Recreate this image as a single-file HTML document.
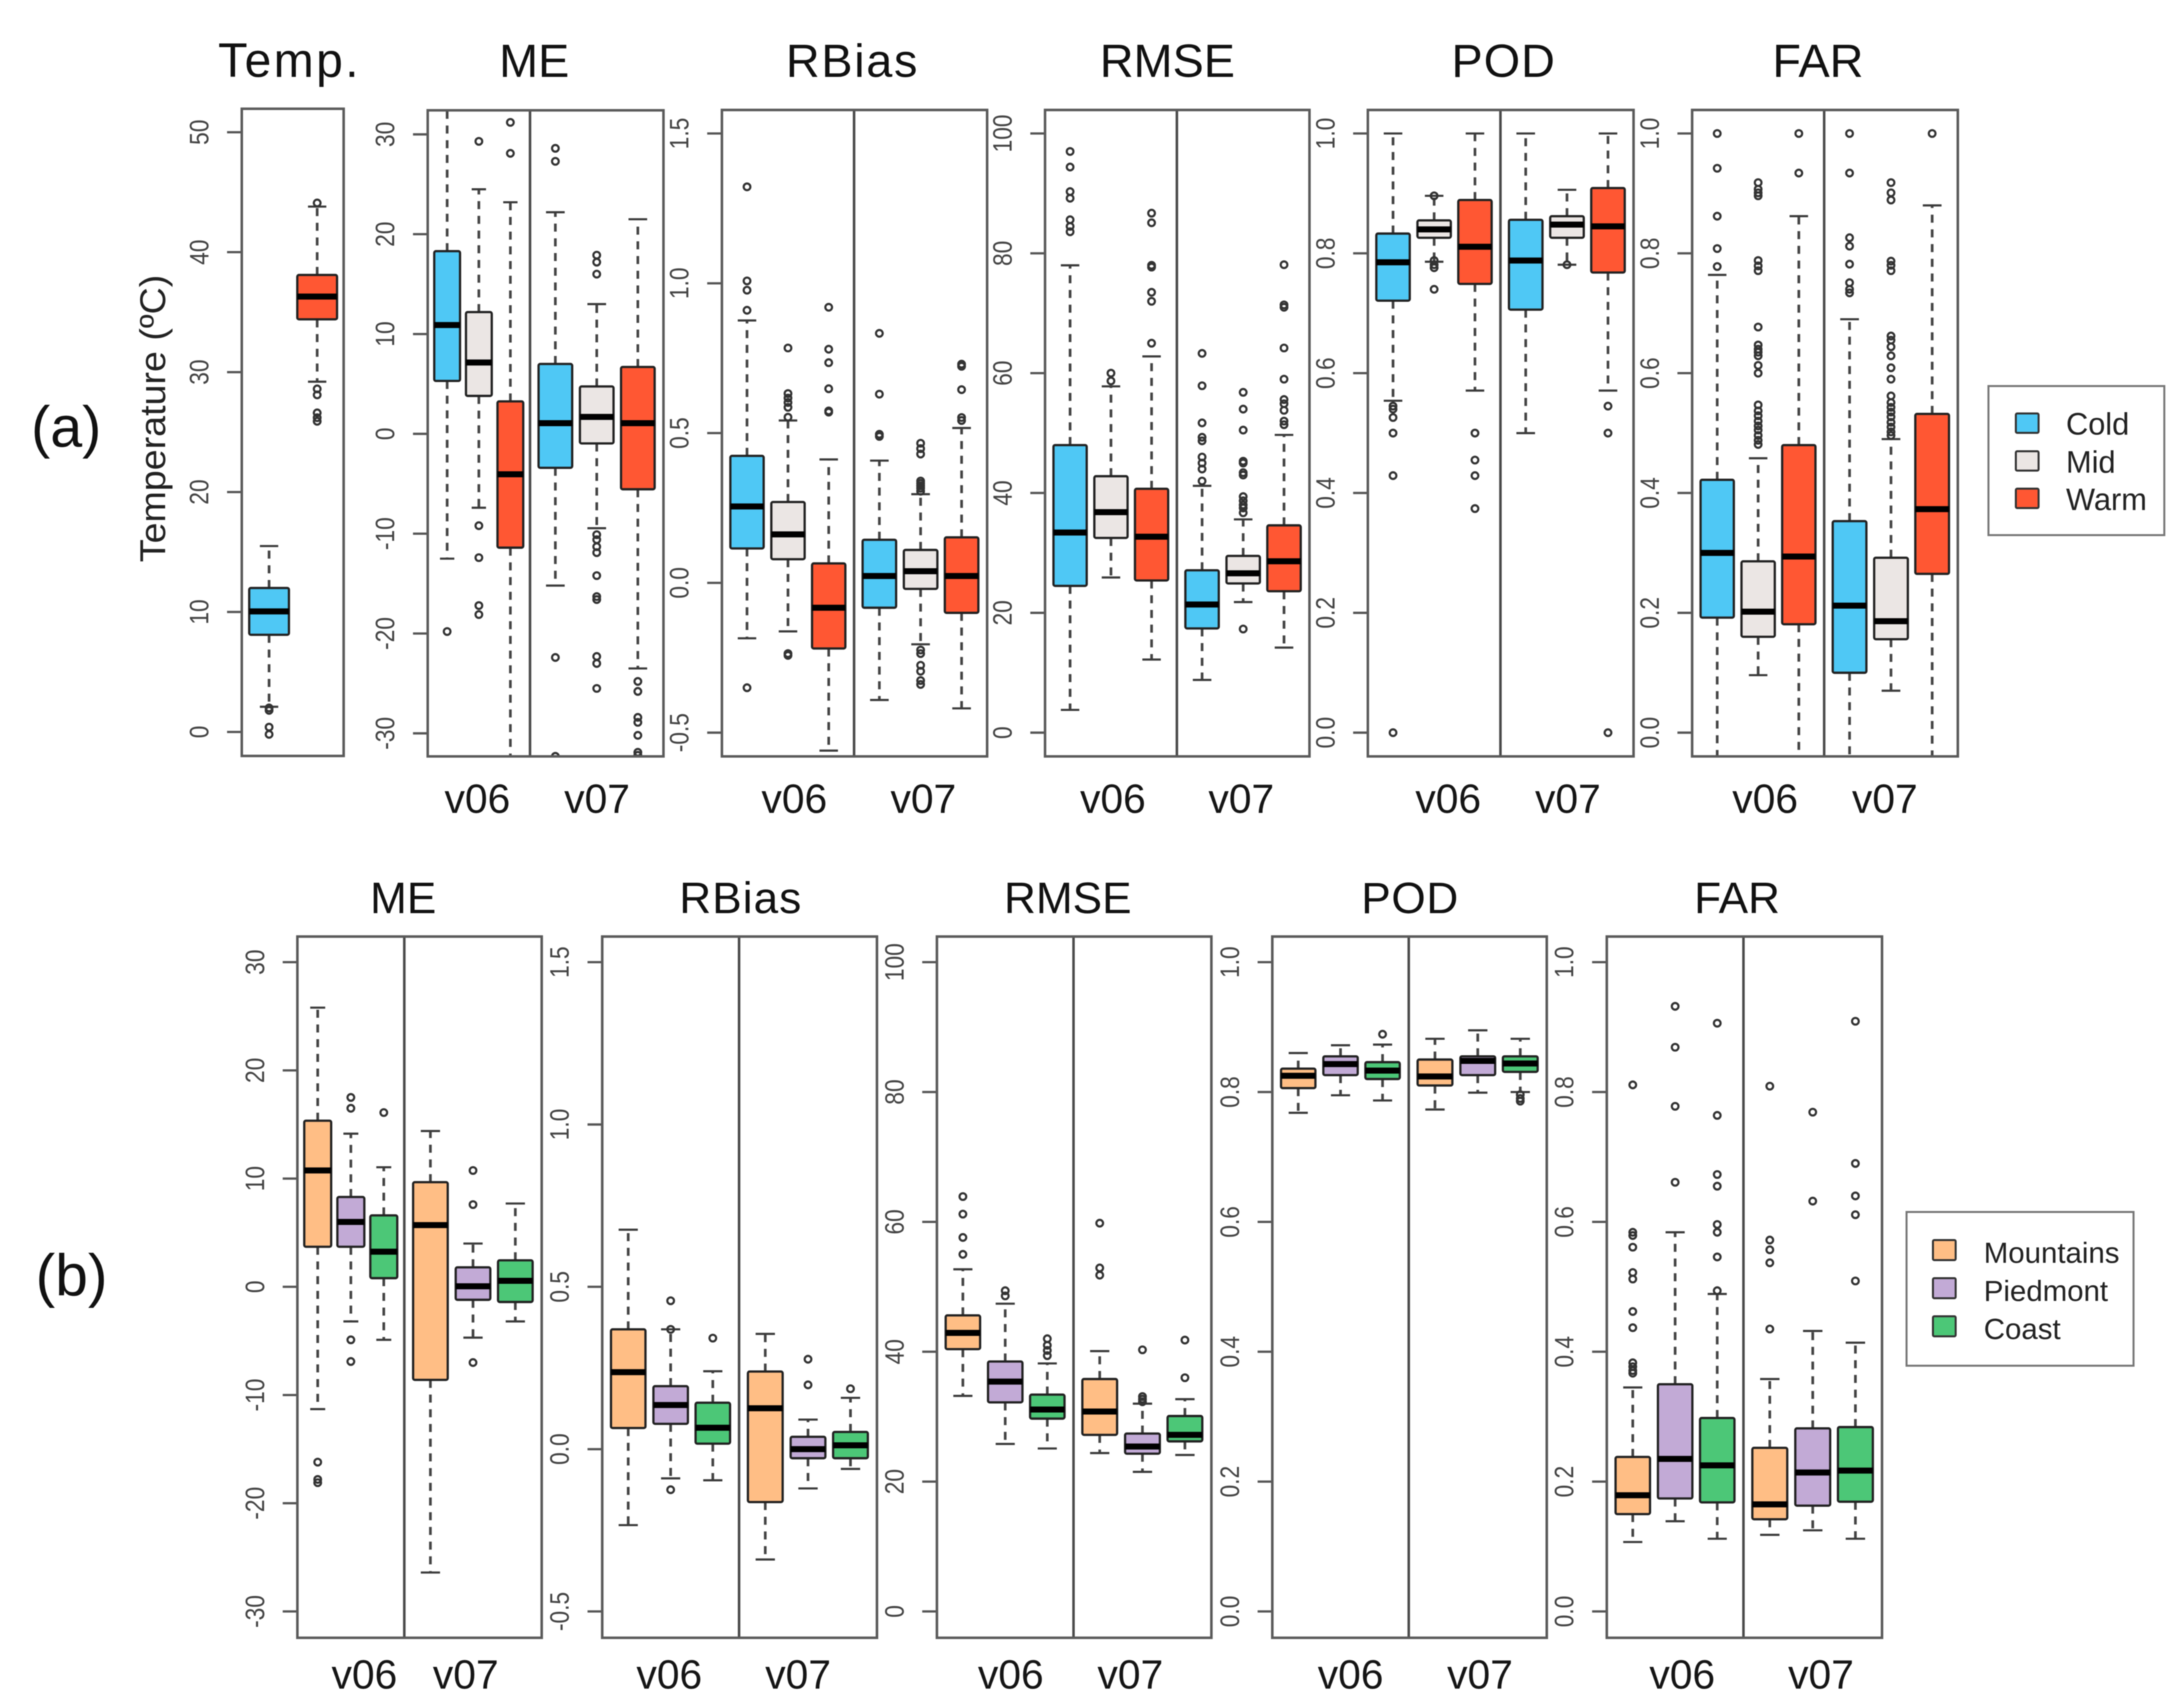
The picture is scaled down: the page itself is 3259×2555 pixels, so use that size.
<!DOCTYPE html>
<html lang="en">
<head>
<meta charset="utf-8">
<title>Boxplots of temperature and verification metrics</title>
<style>
html,body{margin:0;padding:0;background:#fff;width:3259px;height:2555px;overflow:hidden}
svg{display:block;filter:blur(0.8px)}
text{font-family:"Liberation Sans",sans-serif}
</style>
</head>
<body>
<svg id="figure" xmlns="http://www.w3.org/2000/svg" width="3259" height="2555" viewBox="0 0 3259 2555">
  <rect width="3259" height="2555" fill="#fff"/>
  <text x="99" y="668" font-size="86" text-anchor="middle" fill="#111">(a)</text>
  <text x="107" y="1938" font-size="88" text-anchor="middle" fill="#111">(b)</text>
  <text transform="translate(247,626) rotate(-90)" font-size="54" text-anchor="middle" textLength="430" lengthAdjust="spacingAndGlyphs" fill="#222">Temperature (ºC)</text>

  <g>
    <rect x="2974" y="577.5" width="263" height="223" fill="#fff" stroke="#777" stroke-width="3"/>
    <rect x="3015" y="618.5" width="34" height="29" rx="2" fill="#4FC8F5" stroke="#333" stroke-width="3"/>
    <text x="3090" y="650" font-size="46" fill="#222">Cold</text>
    <rect x="3015" y="675" width="34" height="29" rx="2" fill="#EBE6E4" stroke="#333" stroke-width="3"/>
    <text x="3090" y="707" font-size="46" fill="#222">Mid</text>
    <rect x="3015" y="731" width="34" height="29" rx="2" fill="#FF5733" stroke="#333" stroke-width="3"/>
    <text x="3090" y="763" font-size="46" fill="#222">Warm</text>
  </g>

  <g>
    <rect x="2851.5" y="1813" width="339.5" height="230" fill="#fff" stroke="#777" stroke-width="3"/>
    <rect x="2891" y="1855" width="34" height="30" rx="2" fill="#FFBE85" stroke="#333" stroke-width="3"/>
    <text x="2967" y="1889" font-size="44" fill="#222">Mountains</text>
    <rect x="2891" y="1912" width="34" height="30" rx="2" fill="#C2AAD6" stroke="#333" stroke-width="3"/>
    <text x="2967" y="1946" font-size="44" fill="#222">Piedmont</text>
    <rect x="2891" y="1969" width="34" height="30" rx="2" fill="#4CC777" stroke="#333" stroke-width="3"/>
    <text x="2967" y="2003" font-size="44" fill="#222">Coast</text>
  </g>
</svg>

<script>
/* ---------- Tick labels ---------- */
const tempTicks = [0, 10, 20, 30, 40, 50];
const meTicks = [-30, -20, -10, 0, 10, 20, 30];
const rbiasTicks = ['-0.5', '0.0', '0.5', '1.0', '1.5'];
const rmseTicks = [0, 20, 40, 60, 80, 100];
const fractionTicks = ['0.0', '0.2', '0.4', '0.6', '0.8', '1.0'];
const versionLabels = ['v06', 'v07'];

/* ---------- Category colours ---------- */
const tempColors = ['#4FC8F5', '#FF5733'];
const seasonColors = ['#4FC8F5', '#EBE6E4', '#FF5733'];
const regionColors = ['#FFBE85', '#C2AAD6', '#4CC777'];

/* ---------- Each stats row: [lower whisker, Q1, median, Q3, upper whisker] ---------- */
const tempStats = [
  [2.1, 8.1, 10.05, 12, 15.5],
  [29.2, 34.4, 36.3, 38.1, 43.8]
];
const tempOutliers = [
  [1.8, 2, 0.4, -0.2],
  [44.1, 28.6, 28.1, 26.6, 26.2, 25.9]
];

const seasonMeStats = [
  [-12.5, 5.3, 10.9, 18.3, 33],
  [-7.4, 3.8, 7.15, 12.2, 24.5],
  [-36, -11.4, -4.05, 3.25, 23.2],
  [-15.2, -3.4, 1.07, 7, 22.2],
  [-9.45, -0.96, 1.7, 4.75, 13],
  [-23.5, -5.55, 1.07, 6.7, 21.5]
];
const seasonMeOutliers = [
  [-19.8],
  [29.3, -9.2, -12.4, -17.2, -18.1],
  [31.2, 28.1],
  [28.6, 27.3, -22.4, -32.3],
  [17.9, 17.2, 16, -10.1, -10.6, -11.3, -11.9, -14.2, -16.3, -16.6, -22.3, -23, -25.5],
  [-24.8, -25.8, -28.4, -28.9, -30.2, -31.9, -32.2]
];

const seasonRbiasStats = [
  [-0.185, 0.115, 0.255, 0.424, 0.876],
  [-0.162, 0.079, 0.162, 0.27, 0.542],
  [-0.56, -0.219, -0.083, 0.065, 0.412],
  [-0.391, -0.083, 0.023, 0.144, 0.408],
  [-0.205, -0.02, 0.039, 0.11, 0.296],
  [-0.419, -0.1, 0.023, 0.152, 0.517]
];
const seasonRbiasOutliers = [
  [1.322, 1.008, 0.977, 0.91, -0.35],
  [0.784, 0.632, 0.617, 0.602, 0.586, 0.553, -0.236, -0.242],
  [0.92, 0.78, 0.735, 0.648, 0.574, 0.57],
  [0.833, 0.63, 0.496, 0.489],
  [0.466, 0.448, 0.43, 0.34, 0.332, 0.324, 0.316, 0.306, -0.224, -0.236, -0.275, -0.295, -0.326, -0.339],
  [0.73, 0.723, 0.645, 0.552, 0.542]
];

const seasonRmseStats = [
  [3.8, 24.5, 33.4, 48, 78],
  [25.9, 32.5, 36.8, 42.8, 57.8],
  [12.2, 25.4, 32.7, 40.7, 62.8],
  [8.8, 17.4, 21.4, 27.1, 41.2],
  [21.8, 24.9, 26.6, 29.5, 35.6],
  [14.2, 23.6, 28.6, 34.6, 49.7]
];
const seasonRmseOutliers = [
  [97, 94.4, 90.3, 89.2, 85.6, 84.5, 83.6],
  [60, 58.7],
  [86.7, 85.1, 78, 77.7, 73.5, 72, 65],
  [63.3, 57.9, 51.7, 49.3, 48.7, 46, 45, 44, 42],
  [56.8, 54, 50.5, 45.3, 45, 43.4, 43, 39.4, 38.7, 38, 37.5, 36.7, 17.3],
  [78.1, 71.4, 71, 64.2, 59, 55.6, 54.9, 53.8, 52, 51.4]
];

const seasonPodStats = [
  [0.554, 0.721, 0.785, 0.833, 1],
  [0.786, 0.826, 0.84, 0.855, 0.896],
  [0.571, 0.749, 0.811, 0.889, 1],
  [0.5, 0.706, 0.788, 0.856, 1],
  [0.781, 0.826, 0.848, 0.862, 0.906],
  [0.571, 0.768, 0.845, 0.909, 1]
];
const seasonPodOutliers = [
  [0.545, 0.54, 0.526, 0.5, 0.429, 0],
  [0.896, 0.788, 0.781, 0.776, 0.74],
  [0.5, 0.455, 0.429, 0.374],
  [],
  [0.781],
  [0.545, 0.5, 0]
];

const seasonFarStats = [
  [-0.05, 0.192, 0.3, 0.422, 0.764],
  [0.096, 0.16, 0.202, 0.286, 0.458],
  [-0.05, 0.181, 0.294, 0.48, 0.862],
  [-0.06, 0.1, 0.212, 0.353, 0.69],
  [0.07, 0.156, 0.186, 0.292, 0.49],
  [-0.05, 0.265, 0.373, 0.532, 0.88]
];
const seasonFarOutliers = [
  [1, 0.942, 0.862, 0.808, 0.778],
  [0.918, 0.907, 0.901, 0.896, 0.788, 0.779, 0.771, 0.677, 0.647, 0.64, 0.635, 0.629, 0.613, 0.6, 0.547, 0.537, 0.529, 0.52, 0.512, 0.505, 0.496, 0.488, 0.481],
  [1, 0.934],
  [1, 0.934, 0.826, 0.812, 0.782, 0.751, 0.74, 0.734],
  [0.918, 0.901, 0.889, 0.787, 0.78, 0.771, 0.662, 0.655, 0.644, 0.629, 0.609, 0.59, 0.562, 0.551, 0.543, 0.535, 0.527, 0.518, 0.51, 0.502, 0.496],
  [1]
];

const regionMeStats = [
  [-11.3, 3.7, 10.75, 15.35, 25.8],
  [-3.2, 3.7, 6, 8.3, 14.15],
  [-4.9, 0.8, 3.25, 6.6, 11.05],
  [-26.4, -8.6, 5.7, 9.67, 14.4],
  [-4.7, -1.2, 0.05, 1.8, 4],
  [-3.2, -1.4, 0.55, 2.45, 7.7]
];
const regionMeOutliers = [
  [-16.2, -17.8, -18.1],
  [17.5, 16.5, -4.9, -6.9],
  [16.1],
  [],
  [10.75, 7.6, -7],
  []
];

const regionRbiasStats = [
  [-0.234, 0.065, 0.237, 0.369, 0.676],
  [-0.09, 0.078, 0.136, 0.194, 0.369],
  [-0.096, 0.017, 0.066, 0.143, 0.24],
  [-0.34, -0.163, 0.126, 0.239, 0.355],
  [-0.121, -0.028, 0, 0.038, 0.091],
  [-0.061, -0.028, 0.012, 0.053, 0.158]
];
const regionRbiasOutliers = [
  [],
  [0.457, 0.369, -0.125],
  [0.342],
  [],
  [0.277, 0.198],
  [0.186]
];

const regionRmseStats = [
  [33.2, 40.4, 42.9, 45.6, 52.7],
  [25.8, 32.2, 35.4, 38.5, 47.4],
  [25.1, 29.7, 31.1, 33.4, 38.2],
  [24.4, 27.2, 30.8, 35.8, 40.1],
  [21.5, 24.3, 25.4, 27.4, 32],
  [24.1, 26.2, 27.2, 30.1, 32.7]
];
const regionRmseOutliers = [
  [63.9, 61.2, 57.6, 55],
  [49.4, 48.6],
  [42, 41, 40.2, 39.4],
  [59.8, 52.9, 51.8],
  [40.3, 33.1, 32.7, 32.3],
  [41.8, 36]
];

const regionPodStats = [
  [0.768, 0.806, 0.825, 0.836, 0.86],
  [0.795, 0.826, 0.843, 0.855, 0.872],
  [0.787, 0.82, 0.833, 0.846, 0.873],
  [0.773, 0.81, 0.824, 0.85, 0.882],
  [0.799, 0.826, 0.848, 0.855, 0.895],
  [0.8, 0.831, 0.844, 0.855, 0.882]
];
const regionPodOutliers = [
  [],
  [],
  [0.889],
  [],
  [],
  [0.796, 0.79, 0.786]
];

const regionFarStats = [
  [0.107, 0.15, 0.179, 0.238, 0.345],
  [0.139, 0.174, 0.235, 0.35, 0.584],
  [0.112, 0.168, 0.225, 0.298, 0.489],
  [0.118, 0.142, 0.165, 0.252, 0.358],
  [0.125, 0.163, 0.214, 0.282, 0.432],
  [0.112, 0.169, 0.217, 0.284, 0.414]
];
const regionFarOutliers = [
  [0.811, 0.584, 0.579, 0.561, 0.522, 0.512, 0.462, 0.437, 0.383, 0.377, 0.371, 0.367],
  [0.932, 0.869, 0.778, 0.661],
  [0.906, 0.764, 0.673, 0.655, 0.596, 0.584, 0.546, 0.494],
  [0.809, 0.572, 0.557, 0.537, 0.435],
  [0.769, 0.632],
  [0.909, 0.69, 0.64, 0.611, 0.509]
];

/* ---------- Drawing ---------- */
const svg = document.getElementById('figure');
const NS = 'http://www.w3.org/2000/svg';

function make(parent, tag, attrs) {
  const el = document.createElementNS(NS, tag);
  for (const key in attrs) el.setAttribute(key, attrs[key]);
  parent.appendChild(el);
  return el;
}

function linearScale(domainLow, domainHigh, rangeLow, rangeHigh) {
  return v => rangeLow + (Number(v) - domainLow) * (rangeHigh - rangeLow) / (domainHigh - domainLow);
}

let clipCounter = 0;

function drawPanel(p) {
  const slug = p.id;
  const panel = make(svg, 'g', {});
  
  

  const y = linearScale(Number(p.ticks[0]), Number(p.ticks[p.ticks.length - 1]), p.tickLowPx, p.tickHighPx);

  const title = make(panel, 'text', { x: p.titleX, y: p.titleY, 'font-size': p.titleSize, 'text-anchor': 'middle', fill: '#111', 'letter-spacing': p.titleSpacing || 0 });
  
  
  title.textContent = p.title;

  p.ticks.forEach(tick => {
    const mark = make(panel, 'line', { x1: p.left - 22, x2: p.left, y1: y(tick), y2: y(tick), stroke: '#555', 'stroke-width': 3.4 });
    
    
    const label = make(panel, 'text', { transform: 'translate(' + (p.left - 50) + ',' + y(tick) + ') rotate(-90) scale(1,1.18)', 'font-size': 34, 'text-anchor': 'middle', fill: '#444' });
    
    
    label.textContent = tick;
  });

  if (p.labelXs) {
    p.labelXs.forEach((lx, i) => {
      const label = make(panel, 'text', { x: lx, y: p.labelY, 'font-size': 61, 'text-anchor': 'middle', fill: '#151515' });
      
      
      label.textContent = versionLabels[i];
    });
  }

  const clipId = 'clip' + (clipCounter++);
  const defs = make(panel, 'defs', {});
  const clip = make(defs, 'clipPath', { id: clipId });
  make(clip, 'rect', { x: p.left, y: p.top, width: p.right - p.left, height: p.bottom - p.top });
  const marks = make(panel, 'g', { 'clip-path': 'url(#' + clipId + ')' });

  const slots = [];
  if (p.divider) {
    [[p.left, p.divider], [p.divider, p.right]].forEach(range => {
      [0.19, 0.5, 0.808].forEach(frac => {
        slots.push({ cx: range[0] + (range[1] - range[0]) * frac, half: (range[1] - range[0]) * 0.126, cap: (range[1] - range[0]) * 0.07 });
      });
    });
  } else {
    [0.268, 0.74].forEach(frac => {
      slots.push({ cx: p.left + (p.right - p.left) * frac, half: (p.right - p.left) * 0.195, cap: (p.right - p.left) * 0.09 });
    });
  }

  p.stats.forEach((s, i) => {
    const slot = slots[i];
    const color = p.colors[i % p.colors.length];
    const box = make(marks, 'g', {});
    
    

    [[s[0], s[1]], [s[4], s[3]]].forEach(pair => {
      const whisker = make(box, 'line', { x1: slot.cx, x2: slot.cx, y1: y(pair[1]), y2: y(pair[0]), stroke: '#444', 'stroke-width': 4, 'stroke-dasharray': '12 10' });
      
      
      const cap = make(box, 'line', { x1: slot.cx - slot.cap, x2: slot.cx + slot.cap, y1: y(pair[0]), y2: y(pair[0]), stroke: '#3a3a3a', 'stroke-width': 3.2 });
      
      
    });

    const rect = make(box, 'rect', { x: slot.cx - slot.half, y: y(s[3]), width: slot.half * 2, height: y(s[1]) - y(s[3]), rx: 2.5, fill: color, stroke: '#222', 'stroke-width': 3.4 });
    
    

    const median = make(box, 'line', { x1: slot.cx - slot.half, x2: slot.cx + slot.half, y1: y(s[2]), y2: y(s[2]), stroke: '#000', 'stroke-width': 9 });
    
    

    p.outliers[i].forEach(v => {
      const dot = make(box, 'circle', { cx: slot.cx, cy: y(v), r: 5, fill: 'none', stroke: '#333', 'stroke-width': 3.2 });
      
      
    });
  });

  if (p.divider) {
    const divider = make(panel, 'line', { x1: p.divider, x2: p.divider, y1: p.top, y2: p.bottom, stroke: '#4a4a4a', 'stroke-width': 3.8 });
    
    
  }

  const frame = make(panel, 'rect', { x: p.left, y: p.top, width: p.right - p.left, height: p.bottom - p.top, fill: 'none', stroke: '#5a5a5a', 'stroke-width': 3.8 });
  
  
}

const topRow = { titleY: 115, titleSize: 70, labelY: 1216, top: 164.5, bottom: 1131.5, tickLowPx: 1096, tickHighPx: 199.7, colors: seasonColors };
const bottomRow = { titleY: 1366, titleSize: 66, labelY: 2526, top: 1401, bottom: 2450, tickLowPx: 2410.6, tickHighPx: 1439.3, colors: regionColors };

drawPanel({ ...topRow, id: 'temp', title: 'Temp.', titleX: 433, titleSize: 72, titleSpacing: 3.5, top: 162.7, bottom: 1130.8, tickLowPx: 1094.9, tickHighPx: 197.8, left: 361.6, right: 514, ticks: tempTicks, stats: tempStats, outliers: tempOutliers, colors: tempColors });
drawPanel({ ...topRow, id: 'season-me', title: 'ME', titleX: 799, top: 165, tickLowPx: 1097, tickHighPx: 201, left: 639.7, right: 992.3, divider: 792.7, labelXs: [714, 893], ticks: meTicks, stats: seasonMeStats, outliers: seasonMeOutliers });
drawPanel({ ...topRow, id: 'season-rbias', title: 'RBias', titleX: 1275, titleSpacing: 2.5, left: 1079.7, right: 1476.4, divider: 1277.4, labelXs: [1188, 1381], ticks: rbiasTicks, stats: seasonRbiasStats, outliers: seasonRbiasOutliers });
drawPanel({ ...topRow, id: 'season-rmse', title: 'RMSE', titleX: 1746, left: 1563, right: 1958.5, divider: 1760.2, labelXs: [1664.5, 1856.5], ticks: rmseTicks, stats: seasonRmseStats, outliers: seasonRmseOutliers });
drawPanel({ ...topRow, id: 'season-pod', title: 'POD', titleX: 2249, titleSpacing: 1.5, left: 2045.8, right: 2443.2, divider: 2244.1, labelXs: [2166, 2345], ticks: fractionTicks, stats: seasonPodStats, outliers: seasonPodOutliers });
drawPanel({ ...topRow, id: 'season-far', title: 'FAR', titleX: 2719, left: 2530.8, right: 2928.2, divider: 2728.3, labelXs: [2640, 2819], ticks: fractionTicks, stats: seasonFarStats, outliers: seasonFarOutliers });

drawPanel({ ...bottomRow, id: 'region-me', title: 'ME', titleX: 603, left: 444.8, right: 810.2, divider: 604.7, labelXs: [545, 696.6], ticks: meTicks, stats: regionMeStats, outliers: regionMeOutliers });
drawPanel({ ...bottomRow, id: 'region-rbias', title: 'RBias', titleX: 1108, titleSpacing: 1.6, left: 900.7, right: 1311.6, divider: 1105.4, labelXs: [1001, 1193.7], ticks: rbiasTicks, stats: regionRbiasStats, outliers: regionRbiasOutliers });
drawPanel({ ...bottomRow, id: 'region-rmse', title: 'RMSE', titleX: 1597, left: 1401.3, right: 1811.8, divider: 1605.6, labelXs: [1511.8, 1690.6], ticks: rmseTicks, stats: regionRmseStats, outliers: regionRmseOutliers });
drawPanel({ ...bottomRow, id: 'region-pod', title: 'POD', titleX: 2109, titleSpacing: 1, left: 1902.9, right: 2313.4, divider: 2107, labelXs: [2020, 2213.6], ticks: fractionTicks, stats: regionPodStats, outliers: regionPodOutliers });
drawPanel({ ...bottomRow, id: 'region-far', title: 'FAR', titleX: 2598, left: 2403.2, right: 2814.8, divider: 2607.6, labelXs: [2516, 2723.6], ticks: fractionTicks, stats: regionFarStats, outliers: regionFarOutliers });
</script>
</body>
</html>
